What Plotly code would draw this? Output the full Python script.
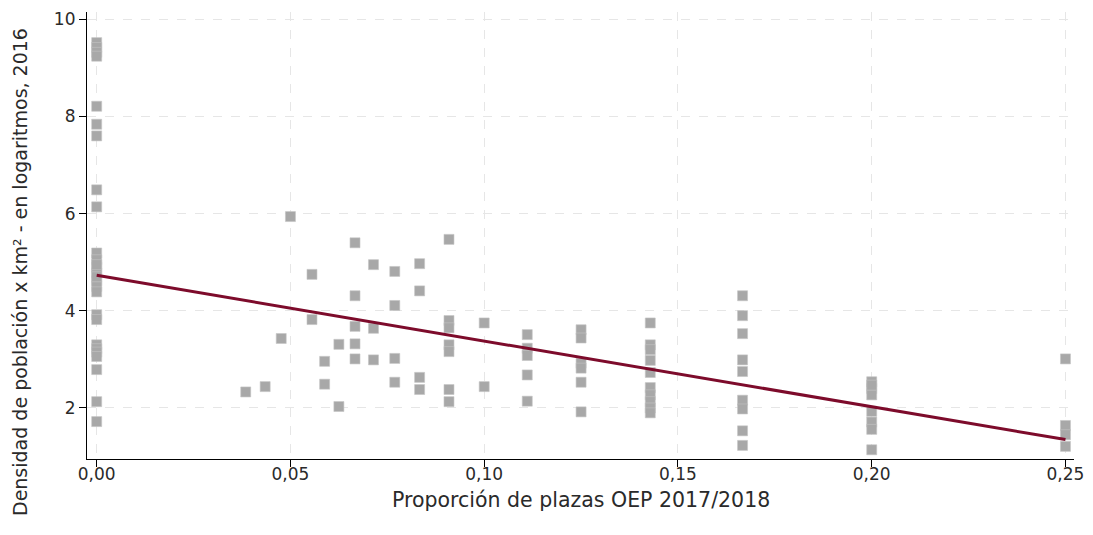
import plotly.graph_objects as go

# Proportion of OEP places (x) and log population density (y)
prop = (
    [0.0] * 27
    + [1/26, 1/23, 1/21, 0.05]
    + [1/18] * 2
    + [1/17] * 2
    + [1/16] * 2
    + [1/15] * 5
    + [1/14] * 3
    + [1/13] * 4
    + [1/12] * 4
    + [1/11] * 7
    + [0.10] * 2
    + [1/9] * 5
    + [1/8] * 6
    + [1/7] * 10
    + [1/6] * 9
    + [0.20] * 8
    + [0.25] * 4
)
dens = (
    # x = 0
    [9.52, 9.42, 9.32, 9.24, 8.21, 7.84, 7.60, 6.49, 6.14,
     5.19, 5.05, 4.90, 4.78, 4.62, 4.50, 4.39, 3.92, 3.82,
     3.30, 3.22, 3.15, 3.06, 2.79, 2.13, 1.72, 4.95, 4.70]
    # 1/26, 1/23, 1/21, 0.05
    + [2.33, 2.44, 3.43, 5.94]
    # 1/18
    + [4.75, 3.82]
    # 1/17
    + [2.96, 2.49]
    # 1/16
    + [3.31, 2.03]
    # 1/15
    + [5.40, 4.31, 3.68, 3.32, 3.01]
    # 1/14
    + [4.95, 3.64, 2.99]
    # 1/13
    + [4.81, 4.11, 3.02, 2.53]
    # 1/12
    + [4.97, 4.41, 2.63, 2.38]
    # 1/11
    + [5.47, 3.80, 3.65, 3.30, 3.16, 2.38, 2.13]
    # 0.10
    + [3.75, 2.44]
    # 1/9
    + [3.51, 3.23, 3.08, 2.68, 2.14]
    # 1/8
    + [3.61, 3.44, 2.92, 2.82, 2.53, 1.92]
    # 1/7
    + [3.75, 3.30, 3.20, 2.98, 2.73, 2.42, 2.27, 2.13, 2.00, 1.90]
    # 1/6
    + [4.31, 3.90, 3.53, 2.99, 2.75, 2.16, 1.98, 1.53, 1.23]
    # 0.20
    + [2.54, 2.40, 2.27, 1.93, 1.71, 1.56, 1.14, 2.47]
    # 0.25
    + [3.01, 1.64, 1.45, 1.21]
)

fit_x = [0.0, 0.25]
fit_y = [4.73, 1.35]

x_ticks = [0.0, 0.05, 0.10, 0.15, 0.20, 0.25]
y_ticks = [2, 4, 6, 8, 10]

x_title = "Proporción de plazas OEP 2017/2018"
y_title = "Densidad de población x km² - en logaritmos, 2016"

fig = go.Figure()
fig.add_trace(go.Scatter(
    x=prop, y=dens, mode="markers",
    marker=dict(symbol="square", size=10, color="#a8a8a8",
                line=dict(width=0.6, color="#c4c4c4")),
    showlegend=False, hoverinfo="x+y",
))
fig.add_trace(go.Scatter(
    x=fit_x, y=fit_y, mode="lines",
    line=dict(color="#7d0b2b", width=3),
    showlegend=False,
))

font_family = "'DejaVu Sans', sans-serif"
# page body has an 8px margin, so the figure is sized/offset to compensate
W, H = 1085, 527
L, R, T, B = 79, 19, 4, 76
PW, PH = W - L - R, H - T - B

fig.update_layout(
    width=W, height=H,
    margin=dict(l=L, r=R, t=T, b=B),
    plot_bgcolor="white", paper_bgcolor="white",
    separators=",.",
    font=dict(family=font_family, size=17, color="#2a2a2a"),
    xaxis=dict(
        range=[-0.0025, 0.2522],
        tickvals=x_ticks, tickformat=".2f",
        showline=True, linecolor="black", linewidth=1.2,
        ticks="outside", ticklen=7, tickcolor="black",
        ticklabelstandoff=-8,
        showgrid=True, gridcolor="#e6e6e6", griddash="dash", gridwidth=1,
        zeroline=False, automargin=False,
        tickfont=dict(size=17),
    ),
    yaxis=dict(
        range=[0.95, 10.15],
        tickvals=y_ticks,
        showline=True, linecolor="black", linewidth=1.2,
        ticks="outside", ticklen=7, tickcolor="black",
        showgrid=True, gridcolor="#e6e6e6", griddash="dash", gridwidth=1,
        zeroline=False, automargin=False,
        tickfont=dict(size=17),
    ),
    annotations=[
        dict(text=x_title, xref="paper", yref="paper",
             x=0.5, y=-41 / PH, xanchor="center", yanchor="middle",
             showarrow=False, font=dict(size=20.5)),
        dict(text=y_title, xref="paper", yref="paper",
             x=-67 / PW, y=(T + PH - 264) / PH, xanchor="center",
             yanchor="middle", textangle=-90,
             showarrow=False, font=dict(size=19)),
    ],
)

fig.write_html("out.html")
